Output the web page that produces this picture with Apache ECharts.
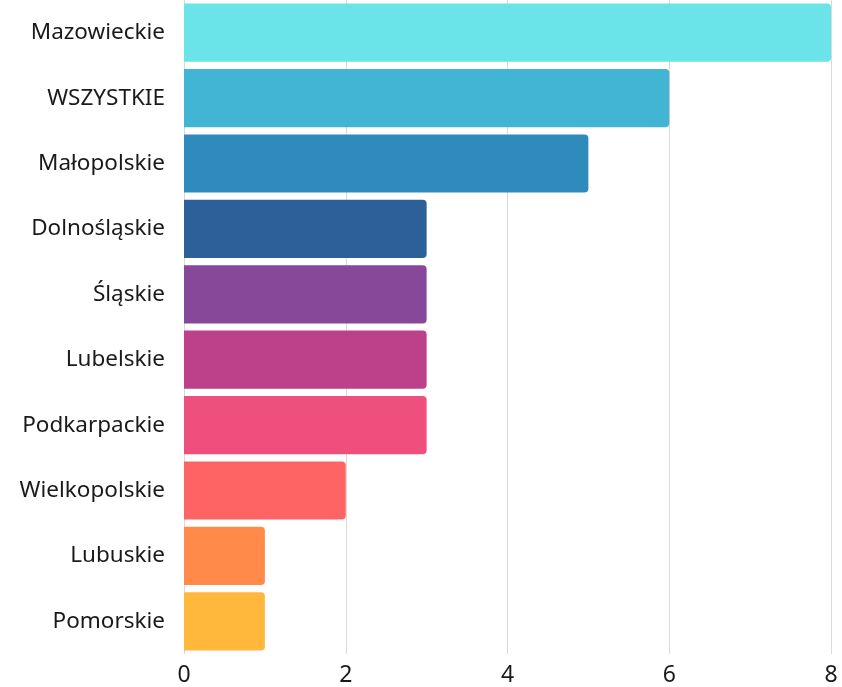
<!DOCTYPE html>
<html><head><meta charset="utf-8">
<script src="https://cdn.jsdelivr.net/npm/echarts@6/dist/echarts.min.js"></script>
<style>html,body{margin:0;padding:0;background:#fff}#c{width:842px;height:687px}</style>
</head><body><div id="c"></div>
<script>
const categories = ["Mazowieckie","WSZYSTKIE","Małopolskie","Dolnośląskie","Śląskie","Lubelskie","Podkarpackie","Wielkopolskie","Lubuskie","Pomorskie"];
const values = [8,6,5,3,3,3,3,2,1,1];
const colors = ["#6ae4e8","#42b4d4","#2e8bbb","#2d5f98","#874899","#bc408a","#ee4f7d","#ff6464","#ff8a4a","#ffb83c"];
const xTicks = [0,2,4,6,8];

const chart = echarts.init(document.getElementById('c'));
chart.setOption({
  animation:false,
  grid:{left:184,right:11,top:0,bottom:29,containLabel:false},
  xAxis:{type:'value',min:0,max:8,interval:2,
    axisLine:{show:false},axisTick:{show:false},
    splitLine:{lineStyle:{color:'#d9d9d9',width:1}},
    axisLabel:{color:'#1a1a1a',fontSize:23,fontFamily:'Noto Sans',margin:10,
      formatter:v=>xTicks.includes(v)?String(v):''}},
  yAxis:{type:'category',data:categories,inverse:true,
    axisLine:{show:false},axisTick:{show:false},
    axisLabel:{color:'#1a1a1a',fontSize:22.5,fontFamily:'Noto Sans',margin:19,padding:[3,0,0,0]}},
  series:[{type:'bar',barCategoryGap:'11%',
    data:values.map((v,i)=>({value:v,itemStyle:{color:colors[i],borderRadius:[0,4,4,0]}}))}]
});
</script></body></html>
